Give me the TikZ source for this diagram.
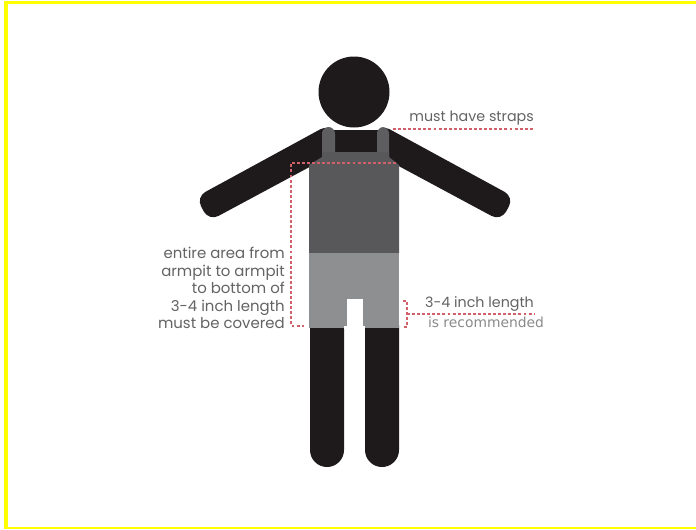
\documentclass[tikz,border=0pt]{standalone}
\usepackage{fontspec}
\setmainfont{Poppins}
\newfontfamily\recfont{DejaVu Sans}
\definecolor{figblack}{HTML}{1E1A1B}
\definecolor{topgrey}{HTML}{58585A}
\definecolor{strapgrey}{HTML}{5E5E60}
\definecolor{botgrey}{HTML}{8E8F91}
\definecolor{lab}{HTML}{636365}
\definecolor{lablight}{HTML}{8A8A8C}
\definecolor{reddash}{HTML}{D2606A}
\definecolor{frame}{HTML}{FFFF00}
\tikzset{
  guide/.style={draw=reddash,line width=1.2pt,dash pattern=on 2.2pt off 1.6pt},
  lab/.style={text=lab,font=\fontsize{11.2}{13.1}\selectfont,inner sep=0pt},
  labsmall/.style={text=lab,font=\fontsize{10.7}{13.1}\selectfont,inner sep=0pt},
  reclab/.style={text=lablight,font=\recfont\fontsize{10.4}{12}\selectfont,inner sep=0pt},
}
\begin{document}
\begin{tikzpicture}[x=0.75pt,y=-0.75pt]
\useasboundingbox (0,0) rectangle (696,529);
\fill[white] (0,0) rectangle (696,529);
\fill[frame] (4,1) rectangle (696,4);
\fill[frame] (4,1) rectangle (8,529);
\fill[frame] (4,527) rectangle (696,529);
% figure
\fill[figblack] (354,92) circle (35.5);
% arms
\fill[figblack,rounded corners=8pt] (330,124) -- (196,197) -- (209,221) -- (330,156) -- cycle;
\fill[figblack,rounded corners=8pt] (380,124) -- (514,197) -- (501,221) -- (380,156) -- cycle;
% legs
\fill[figblack] (310,325) -- (344,325) -- (344,450) arc (0:-180:17 and -17) -- cycle;
\fill[figblack] (365,325) -- (399,325) -- (399,450) arc (0:-180:17 and -17) -- cycle;
% torso
\fill[figblack] (330,130) rectangle (380,155);
\fill[strapgrey,rounded corners=5pt] (322,127) rectangle (335,172);
\fill[strapgrey,rounded corners=5pt] (377,127) rectangle (389,172);
\fill[topgrey] (309,165) -- (322,157) -- (322,152) -- (389,152) -- (389,157) -- (399,165) -- (399,253) -- (309,253) -- cycle;
\fill[botgrey] (309,253) rectangle (399,328);
\fill[white] (347,299) rectangle (363,328);
\fill[white] (344,326) rectangle (365,329);
% guides
\coordinate (armL) at (291,163);
\coordinate (armR) at (396,163);
\coordinate (botL) at (291,326);
\coordinate (botLend) at (304,326);
\coordinate (strapA) at (393,129);
\coordinate (strapB) at (533,129);
\coordinate (lenT) at (407,301);
\coordinate (lenB) at (407,327);
\coordinate (lenM) at (407,314);
\coordinate (lenE) at (534,314);
\coordinate (tickT) at (403,301);
\coordinate (tickB) at (403,327);
\draw[guide] (armR) -- (armL) -- (botL) -- (botLend);
\draw[guide] (strapA) -- (strapB);
\draw[guide] (tickT) -- (lenT) -- (lenB) -- (tickB);
\draw[guide] (lenM) -- (lenE);
% labels
\node[labsmall,anchor=east] (straps) at (534,118) {must have straps};
\node[lab,anchor=south east,align=right] (cover) at (285,329) {entire area from\\armpit to armpit\\to bottom of\\3-4 inch length\\must be covered};
\node[labsmall,anchor=center] (len) at (479.5,304) {3-4 inch length};
\node[reclab,anchor=center] (rec) at (486,322) {is recommended};
\end{tikzpicture}
\end{document}
